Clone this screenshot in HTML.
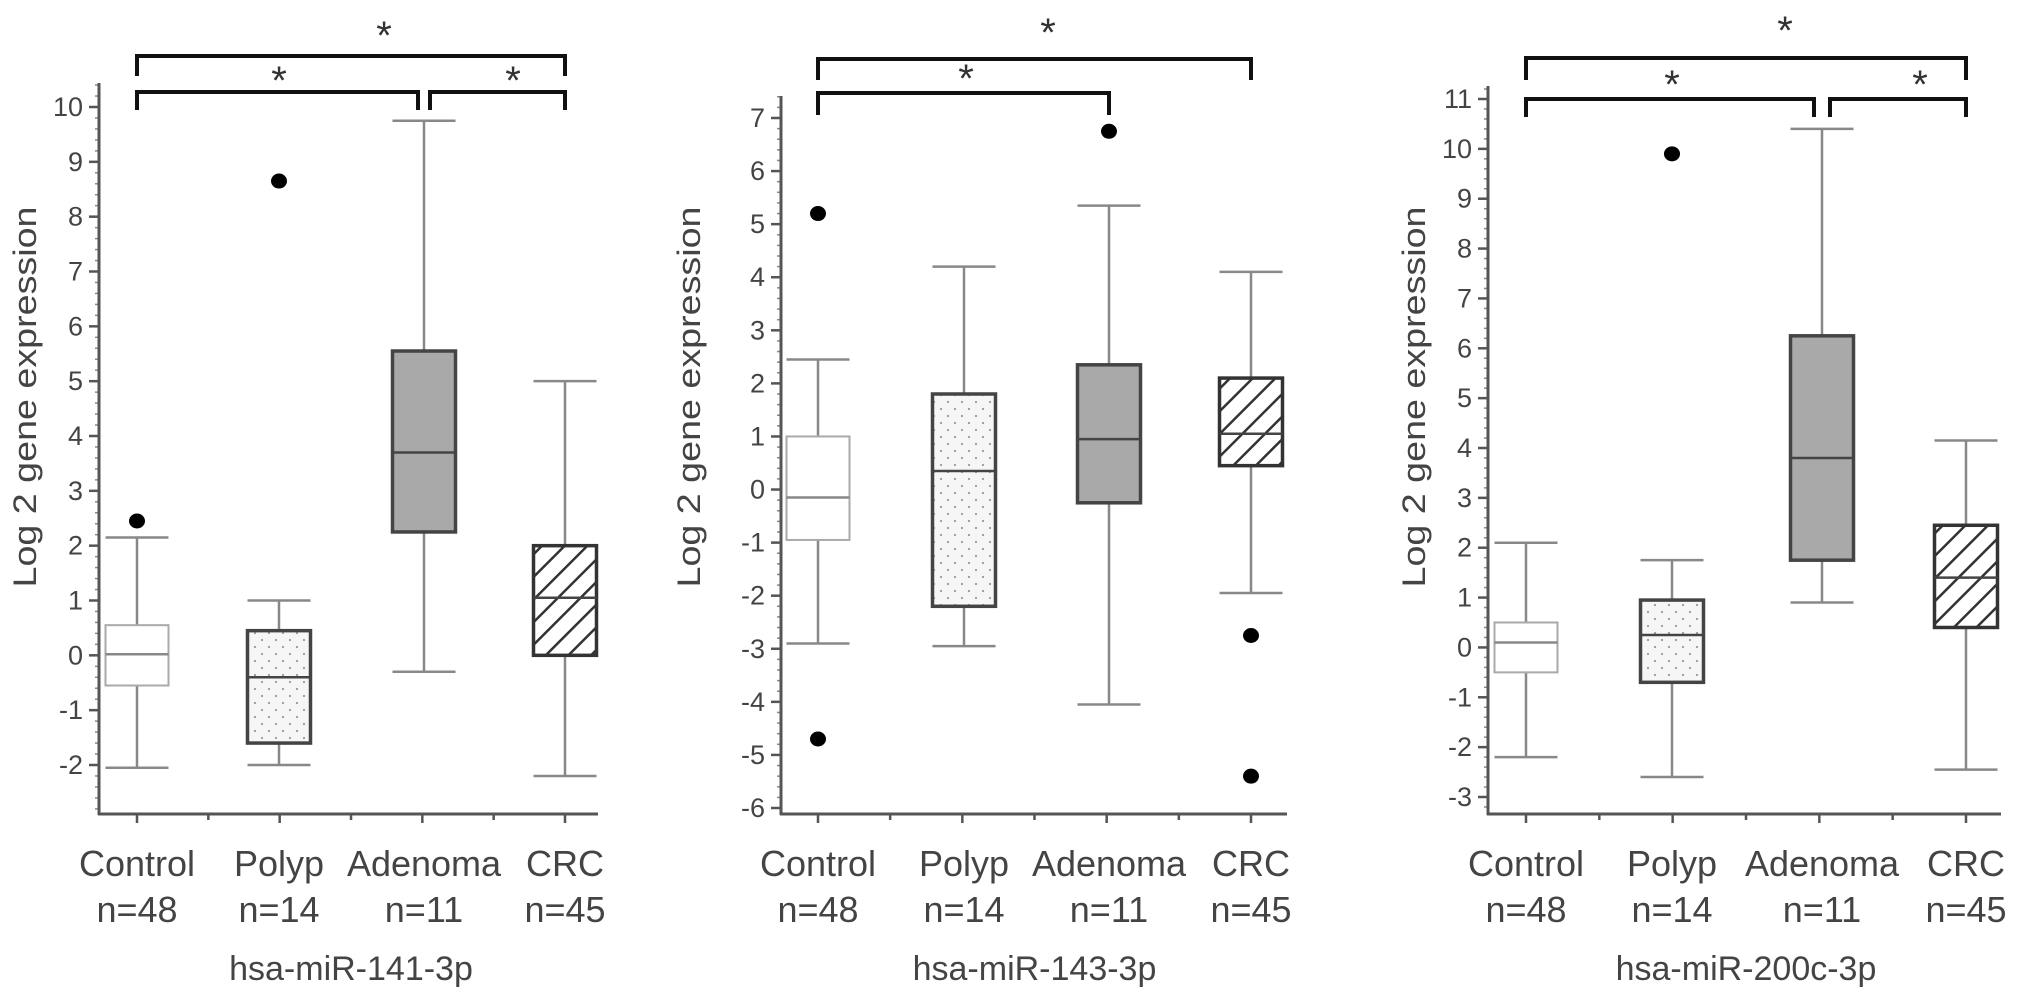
<!DOCTYPE html>
<html><head><meta charset="utf-8"><style>
html,body{margin:0;padding:0;background:#fff;width:2031px;height:1004px;overflow:hidden}
svg text{font-family:"Liberation Sans",sans-serif}
</style></head><body>
<svg id="chart" width="2031" height="1004" viewBox="0 0 2031 1004" xmlns="http://www.w3.org/2000/svg">
<defs>
<pattern id="dots" width="14" height="14" patternUnits="userSpaceOnUse"><rect width="14" height="14" fill="#f6f6f6"/><circle cx="3" cy="3" r="1.1" fill="#999"/><circle cx="10" cy="10" r="1.1" fill="#999"/></pattern>
<pattern id="hatch" width="16" height="16" patternUnits="userSpaceOnUse" patternTransform="rotate(45)"><rect width="16" height="16" fill="#fff"/><line x1="0" y1="0" x2="0" y2="16" stroke="#333" stroke-width="5"/></pattern>
</defs>
</svg>
<script>
const categories = ["Control","Polyp","Adenoma","CRC"];
const nLabels = ["n=48","n=14","n=11","n=45"];
const titles = ["hsa-miR-141-3p","hsa-miR-143-3p","hsa-miR-200c-3p"];
// [whiskerLow, q1, median, q3, whiskerHigh]
const stats141 = [[-2.05,-0.55,0.02,0.55,2.15],[-2.0,-1.6,-0.4,0.45,1.0],[-0.3,2.25,3.7,5.55,9.75],[-2.2,0,1.05,2.0,5.0]];
const outliers141 = [[2.45],[8.65],[],[]];
const stats143 = [[-2.9,-0.95,-0.15,1.0,2.45],[-2.95,-2.2,0.35,1.8,4.2],[-4.05,-0.25,0.95,2.35,5.35],[-1.95,0.45,1.05,2.1,4.1]];
const outliers143 = [[5.2,-4.7],[],[6.75],[-2.75,-5.4]];
const stats200 = [[-2.2,-0.5,0.1,0.5,2.1],[-2.6,-0.7,0.25,0.95,1.75],[0.9,1.75,3.8,6.25,10.4],[-2.45,0.4,1.4,2.45,4.15]];
const outliers200 = [[],[9.9],[],[]];
const ticks141 = [-2,-1,0,1,2,3,4,5,6,7,8,9,10];
const ticks143 = [-6,-5,-4,-3,-2,-1,0,1,2,3,4,5,6,7];
const ticks200 = [-3,-2,-1,0,1,2,3,4,5,6,7,8,9,10,11];

const NS="http://www.w3.org/2000/svg";
const svg=document.getElementById('chart');
function mk(tag,attrs,parent){const e=document.createElementNS(NS,tag);for(const k in attrs)e.setAttribute(k,attrs[k]);(parent||svg).appendChild(e);return e;}

const panels=[
 {stats:stats141,out:outliers141,ticks:ticks141,title:titles[0],ax:99,axEnd:598,cx:[137,279,424,565],t0:-2,y0:765,t1:10,y1:107,top:83,ylx:25,
  br:[[0,3,56,76,384,29],[0,2,92,110,279,74,-6],[2,3,92,110,513,74,6]]},
 {stats:stats143,out:outliers143,ticks:ticks143,title:titles[1],ax:781,axEnd:1287,cx:[818,964,1109,1251],t0:-6,y0:808,t1:7,y1:118,top:96,ylx:689,
  br:[[0,3,59,80,1048,26],[0,2,93,115,966,72]]},
 {stats:stats200,out:outliers200,ticks:ticks200,title:titles[2],ax:1488,axEnd:2001,cx:[1526,1672,1822,1966],t0:-3,y0:797,t1:11,y1:99,top:86,ylx:1414,
  br:[[0,3,58,80,1785,24],[0,2,99,117,1672,78,-8],[2,3,99,117,1920,78,8]]}
];
const fills=["#ffffff","url(#dots)","#a9a9a9","url(#hatch)"];
const strokes=["#aaaaaa","#444","#444","#333"];
const sw=[2,3.5,3.5,3.5];
const BOTTOM=814, BW=63;

panels.forEach((p,pi)=>{
 const g=mk('g',{});
 
 
 const y=v=>p.y0+(v-p.t0)*(p.y1-p.y0)/(p.t1-p.t0);
 for(let v=p.t0-1;v<=p.t1+1;v+=0.2){const yy=y(v);if(yy<p.top||yy>BOTTOM)continue;
  mk('line',{x1:p.ax-4,x2:p.ax,y1:yy,y2:yy,stroke:'#888','stroke-width':1.5},g);}
 const ya=mk('line',{x1:p.ax,x2:p.ax,y1:p.top,y2:BOTTOM+1,stroke:'#555','stroke-width':3},g);
 
 
 const xa=mk('line',{x1:p.ax-1,x2:p.axEnd,y1:BOTTOM,y2:BOTTOM,stroke:'#555','stroke-width':3},g);
 
 
 p.ticks.forEach(t=>{
  const yy=y(t);
  mk('line',{x1:p.ax-10,x2:p.ax,y1:yy,y2:yy,stroke:'#555','stroke-width':2.5},g);
  const tx=mk('text',{x:p.ax-16,y:yy+9,'text-anchor':'end','font-size':27,fill:'#444'},g);
  tx.textContent=t;
  
  
 });
 const step=(p.cx[3]-p.cx[0])/3;
 for(let i=-0.5;i<=3.5;i+=0.5){const xx=p.cx[0]+i*step;if(xx<p.ax+5||xx>p.axEnd)continue;
  mk('line',{x1:xx,x2:xx,y1:BOTTOM,y2:BOTTOM+(Number.isInteger(i)?9:6),stroke:'#555','stroke-width':2.5},g);}
 p.stats.forEach((s,i)=>{
  const cx=p.cx[i];
  const bg=mk('g',{},g);
  
  
  mk('line',{x1:cx,x2:cx,y1:y(s[0]),y2:y(s[4]),stroke:'#888','stroke-width':2.5},bg);
  mk('line',{x1:cx-BW/2,x2:cx+BW/2,y1:y(s[0]),y2:y(s[0]),stroke:'#888','stroke-width':2.5},bg);
  mk('line',{x1:cx-BW/2,x2:cx+BW/2,y1:y(s[4]),y2:y(s[4]),stroke:'#888','stroke-width':2.5},bg);
  mk('rect',{x:cx-BW/2,y:y(s[3]),width:BW,height:y(s[1])-y(s[3]),fill:fills[i],stroke:strokes[i],'stroke-width':sw[i]},bg);
  mk('line',{x1:cx-BW/2,x2:cx+BW/2,y1:y(s[2]),y2:y(s[2]),stroke:i==0?'#888':'#444','stroke-width':2.5},bg);
  p.out[i].forEach(o=>{
   const c=mk('ellipse',{cx:cx,cy:y(o),rx:8,ry:7.5,fill:'#000'},bg);
   
   
  });
  const l1=mk('text',{x:cx,y:876,'text-anchor':'middle','font-size':36,fill:'#444'},g);
  l1.textContent=categories[i];
  
  
  const l2=mk('text',{x:cx,y:922,'text-anchor':'middle','font-size':36,fill:'#444'},g);
  l2.textContent=nLabels[i];
  
  
 });
 p.br.forEach(b=>{
  const a=p.cx[b[0]]+(b[6]>0?b[6]:0), c=p.cx[b[1]]+(b[6]<0?b[6]:0);
  const pb=mk('path',{d:`M${a},${b[3]} V${b[2]} H${c} V${b[3]}`,fill:'none',stroke:'#111','stroke-width':4},g);
  
  
  const st=mk('text',{x:b[4],y:b[5]+20,'text-anchor':'middle','font-size':40,fill:'#333'},g);
  st.textContent='*';
  
  
 });
 const yl=mk('text',{x:0,y:0,'text-anchor':'middle','font-size':32,fill:'#444',transform:`translate(${p.ylx+11},397) rotate(-90)`,textLength:381,lengthAdjust:'spacingAndGlyphs'},g);
 yl.textContent='Log 2 gene expression';
 
 
 const tt=mk('text',{x:(p.cx[0]+p.cx[3])/2,y:980,'text-anchor':'middle','font-size':34,fill:'#444'},g);
 tt.textContent=p.title;
 
 
});
</script>
</body></html>
